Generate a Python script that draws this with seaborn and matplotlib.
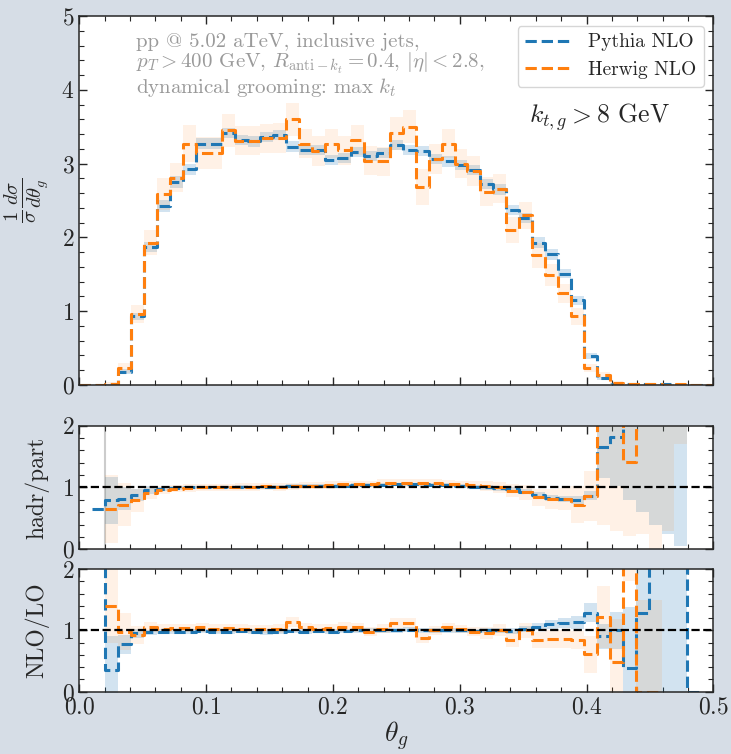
import numpy as np
import pandas as pd
import matplotlib
matplotlib.use("Agg")
import matplotlib.pyplot as plt
from matplotlib.ticker import AutoMinorLocator, MultipleLocator
import seaborn as sns

nan = np.nan

# bin edges in theta_g (49 bins between 0 and 0.5)
edges = np.linspace(0.0, 0.5, 50)

# main panel: 1/sigma dsigma/dtheta_g
pythia = [0.0, 0.0, 0.01, 0.18, 0.93, 1.87, 2.42, 2.75, 2.92, 3.27, 3.27, 3.41, 3.32, 3.30, 3.36, 3.39,
          3.23, 3.18, 3.18, 3.05, 3.08, 3.16, 3.10, 3.14, 3.25, 3.18, 3.17, 3.06, 3.03, 2.98, 2.91, 2.72,
          2.65, 2.37, 2.26, 1.93, 1.77, 1.51, 1.15, 0.39, 0.09, 0.02, 0.01, 0.01, 0.01, 0.01, 0.0, 0.0, 0.0]
pythia_err = [0.0, 0.0, 0.01, 0.03, 0.05, 0.07, 0.08, 0.08, 0.08, 0.07, 0.07, 0.07, 0.07, 0.07, 0.07, 0.07,
              0.07, 0.07, 0.07, 0.07, 0.07, 0.07, 0.07, 0.07, 0.07, 0.07, 0.07, 0.07, 0.07, 0.07, 0.07, 0.07,
              0.07, 0.07, 0.07, 0.07, 0.07, 0.06, 0.06, 0.04, 0.02, 0.01, 0.01, 0.01, 0.01, 0.01, 0.0, 0.0, 0.0]
herwig = [0.0, 0.0, 0.02, 0.23, 0.96, 1.93, 2.59, 2.81, 3.27, 3.14, 3.14, 3.45, 3.31, 3.31, 3.34, 3.35,
          3.60, 3.27, 3.17, 3.27, 3.18, 3.32, 3.04, 3.03, 3.41, 3.50, 2.68, 3.06, 3.27, 3.00, 2.90, 2.62,
          2.66, 2.10, 2.30, 1.76, 1.49, 1.24, 0.93, 0.23, 0.14, 0.03, 0.01, 0.01, 0.01, 0.0, 0.01, 0.0, 0.0]
herwig_err = [0.0, 0.0, 0.02, 0.07, 0.12, 0.17, 0.22, 0.20, 0.25, 0.22, 0.22, 0.22, 0.20, 0.20, 0.20, 0.20,
              0.22, 0.20, 0.20, 0.20, 0.20, 0.20, 0.20, 0.20, 0.22, 0.22, 0.24, 0.20, 0.20, 0.20, 0.20, 0.20,
              0.20, 0.18, 0.18, 0.17, 0.15, 0.13, 0.12, 0.06, 0.04, 0.02, 0.01, 0.01, 0.01, 0.01, 0.01, 0.0, 0.0]

# hadron / parton ratio
hp_pythia = [nan, 0.66, 0.79, 0.82, 0.88, 0.96, 0.98, 0.99, 1.0, 1.0, 1.0, 1.0, 1.01, 1.0, 1.01, 1.01,
             1.02, 1.02, 1.02, 1.03, 1.03, 1.04, 1.04, 1.04, 1.05, 1.05, 1.05, 1.04, 1.04, 1.03, 1.01, 1.0,
             0.99, 0.97, 0.93, 0.88, 0.83, 0.82, 0.80, 0.87, 1.66, 1.82, 3.0, 3.0, 3.0, 3.0, 3.0, nan, nan]
hp_pythia_err = [nan, nan, 0.38, 0.18, 0.10, 0.06, 0.03, 0.03, 0.03, 0.03, 0.03, 0.03, 0.03, 0.03, 0.03, 0.03,
                 0.03, 0.03, 0.03, 0.03, 0.03, 0.03, 0.03, 0.03, 0.03, 0.03, 0.03, 0.03, 0.03, 0.03, 0.03, 0.04,
                 0.04, 0.04, 0.04, 0.05, 0.05, 0.05, 0.06, 0.08, 0.5, 0.8, 2.2, 2.4, 2.6, 2.75, 2.95, nan, nan]
hp_herwig = [nan, nan, 0.65, 0.72, 0.79, 0.91, 0.96, 0.98, 0.99, 1.0, 1.0, 1.0, 1.01, 1.01, 1.02, 1.01,
             1.02, 1.03, 1.03, 1.04, 1.05, 1.05, 1.05, 1.08, 1.08, 1.07, 1.07, 1.08, 1.06, 1.05, 1.04, 1.02,
             1.0, 0.95, 0.92, 0.84, 0.82, 0.81, 0.72, 0.86, 3.0, 3.0, 1.42, 3.0, 3.0, 3.0, 3.0, nan, nan]
hp_herwig_err = [nan, nan, 0.55, 0.35, 0.18, 0.10, 0.07, 0.06, 0.06, 0.06, 0.06, 0.06, 0.06, 0.06, 0.06, 0.06,
                 0.06, 0.06, 0.06, 0.06, 0.06, 0.06, 0.06, 0.06, 0.06, 0.06, 0.06, 0.06, 0.06, 0.06, 0.07, 0.08,
                 0.09, 0.10, 0.12, 0.14, 0.16, 0.18, 0.30, 0.40, 2.6, 2.7, 1.2, 2.75, 3.0, 2.7, 1.3, nan, nan]

# NLO / LO ratio
nl_pythia = [nan, 5.0, 0.35, 0.77, 0.95, 0.97, 0.98, 0.98, 0.98, 0.99, 0.98, 0.98, 0.99, 0.98, 0.97, 0.98,
             0.99, 0.98, 0.99, 0.98, 0.99, 1.0, 1.0, 1.0, 1.0, 1.01, 1.0, 1.0, 1.0, 1.0, 0.99, 1.0,
             1.0, 0.99, 1.02, 1.06, 1.10, 1.12, 1.13, 1.29, 0.90, 1.0, 0.38, 1.28, 3.0, 3.0, 3.0, 0.0, nan]
nl_pythia_err = [nan, nan, 0.55, 0.15, 0.08, 0.04, 0.04, 0.04, 0.04, 0.04, 0.04, 0.04, 0.04, 0.04, 0.04, 0.04,
                 0.04, 0.04, 0.04, 0.04, 0.04, 0.04, 0.04, 0.04, 0.04, 0.04, 0.04, 0.04, 0.04, 0.04, 0.04, 0.04,
                 0.04, 0.05, 0.05, 0.06, 0.07, 0.08, 0.10, 0.15, 0.20, 0.30, 1.0, 1.5, 3.0, 3.0, 3.0, nan, nan]
nl_herwig = [nan, nan, 1.40, 0.98, 0.92, 1.05, 1.03, 1.04, 1.04, 1.05, 1.03, 1.04, 1.03, 1.02, 1.02, 1.03,
             1.14, 1.05, 1.03, 1.04, 1.06, 1.05, 0.98, 1.03, 1.12, 1.12, 0.87, 1.0, 1.05, 1.02, 0.98, 0.96,
             1.01, 0.85, 1.0, 0.84, 0.86, 0.86, 0.84, 0.61, 1.22, 0.49, 3.0, 0.0, 0.0, nan, nan, nan, nan]
nl_herwig_err = [nan, nan, 0.60, 0.30, 0.15, 0.08, 0.07, 0.07, 0.07, 0.07, 0.07, 0.07, 0.07, 0.07, 0.07, 0.07,
                 0.08, 0.07, 0.07, 0.07, 0.07, 0.07, 0.07, 0.07, 0.08, 0.08, 0.08, 0.07, 0.07, 0.07, 0.08, 0.10,
                 0.10, 0.12, 0.12, 0.13, 0.14, 0.15, 0.15, 0.30, 0.50, 0.70, 1.2, 1.5, 1.5, nan, nan, nan, nan]

labels = ["Pythia NLO", "Herwig NLO"]
colors = ["tab:blue", "tab:orange"]
band_alpha = [0.2, 0.1]

sns.set_style("ticks")
plt.rcParams["font.family"] = ["cmr10", "DejaVu Serif"]
plt.rcParams["mathtext.fontset"] = "cm"
plt.rcParams["axes.formatter.use_mathtext"] = True
plt.rcParams["axes.unicode_minus"] = False


def step_line(ax, vals, color, label=None):
    vals = np.asarray(vals, dtype=float)
    ok = np.where(~np.isnan(vals))[0]
    i0, i1 = ok[0], ok[-1]
    x = edges[i0:i1 + 2]
    y = np.append(vals[i0:i1 + 1], vals[i1])
    df = pd.DataFrame({"x": x, "y": y})
    sns.lineplot(data=df, x="x", y="y", ax=ax, color=color, lw=2.2, linestyle="--",
                 drawstyle="steps-post", estimator=None, sort=False, label=label, legend=False)


def band(ax, vals, err, color, alpha):
    lo = np.asarray(vals, dtype=float) - np.asarray(err, dtype=float)
    hi = np.asarray(vals, dtype=float) + np.asarray(err, dtype=float)
    ok = np.where(~np.isnan(lo))[0]
    i0, i1 = ok[0], ok[-1]
    x = edges[i0:i1 + 2]
    ax.fill_between(x, np.append(lo[i0:i1 + 1], lo[i1]), np.append(hi[i0:i1 + 1], hi[i1]),
                    step="post", color=color, alpha=alpha, lw=0)


fig = plt.figure(figsize=(7.31, 7.54), dpi=100)
fig.patch.set_facecolor("#d6dde6")
ax0 = fig.add_axes([0.1085, 0.4894, 0.8673, 0.4894])
ax1 = fig.add_axes([0.1085, 0.2715, 0.8673, 0.1639])
ax2 = fig.add_axes([0.1085, 0.0826, 0.8673, 0.1628])

# main panel
for vals, err, c, a, lab in zip([pythia, herwig], [pythia_err, herwig_err], colors, band_alpha, labels):
    band(ax0, vals, err, c, a)
    step_line(ax0, vals, c, lab)
ax0.set_ylim(0, 5)
ax0.set_ylabel(r"$\frac{1}{\sigma}\frac{d\sigma}{d\theta_g}$", fontsize=21)
ax0.text(0.089, 0.955,
         "pp @ 5.02 aTeV, inclusive jets,\n"
         r"$p_T > 400$ GeV, $R_{\mathrm{anti}-k_t} = 0.4$, $|\eta| < 2.8$," "\n"
         r"dynamical grooming: max $k_t$",
         transform=ax0.transAxes, ha="left", va="top", color="#9a9a9a", fontsize=15, linespacing=1.0)
ax0.text(0.71, 0.725, r"$k_{t,g} > 8$ GeV", transform=ax0.transAxes, ha="left", va="center", fontsize=18.5)
leg = ax0.legend(loc="upper right", fontsize=14, handlelength=2.4, frameon=True, fancybox=True,
                 borderaxespad=0.5)
leg.get_frame().set_edgecolor("#cccccc")

# hadr/part panel
ax1.axvline(edges[2], color="#cccccc", lw=1.5, zorder=0)
for vals, err, c, a in zip([hp_pythia, hp_herwig], [hp_pythia_err, hp_herwig_err], colors, band_alpha):
    band(ax1, vals, err, c, a)
    step_line(ax1, vals, c)
ax1.axhline(1.0, color="black", ls="--", lw=1.6)
ax1.set_ylim(0, 2)
ax1.set_ylabel("hadr/part", fontsize=17)

# NLO/LO panel
for vals, err, c, a in zip([nl_pythia, nl_herwig], [nl_pythia_err, nl_herwig_err], colors, band_alpha):
    band(ax2, vals, err, c, a)
    step_line(ax2, vals, c)
ax2.axhline(1.0, color="black", ls="--", lw=1.6)
ax2.set_ylim(0, 2)
ax2.set_ylabel("NLO/LO", fontsize=17)
ax2.set_xlabel(r"$\theta_g$", fontsize=20, labelpad=1)

for ax in [ax0, ax1, ax2]:
    ax.set_xlim(0, 0.5)
    ax.set_facecolor("white")
    ax.xaxis.set_major_locator(MultipleLocator(0.1))
    ax.xaxis.set_minor_locator(AutoMinorLocator(5))
    ax.yaxis.set_major_locator(MultipleLocator(1))
    ax.yaxis.set_minor_locator(AutoMinorLocator(5))
    ax.tick_params(which="both", direction="in", top=True, right=True, labelsize=17)
    ax.tick_params(which="major", length=6, width=1)
    ax.tick_params(which="minor", length=3.5, width=0.8)
    for s in ax.spines.values():
        s.set_linewidth(1.1)
for ax in [ax0, ax1]:
    ax.tick_params(labelbottom=False)
    ax.set_xlabel("")
ax0.yaxis.set_label_coords(-0.045, 0.5)
ax1.yaxis.set_label_coords(-0.047, 0.5)
ax2.yaxis.set_label_coords(-0.047, 0.5)

fig.savefig("out.png", dpi=100, facecolor=fig.get_facecolor())
